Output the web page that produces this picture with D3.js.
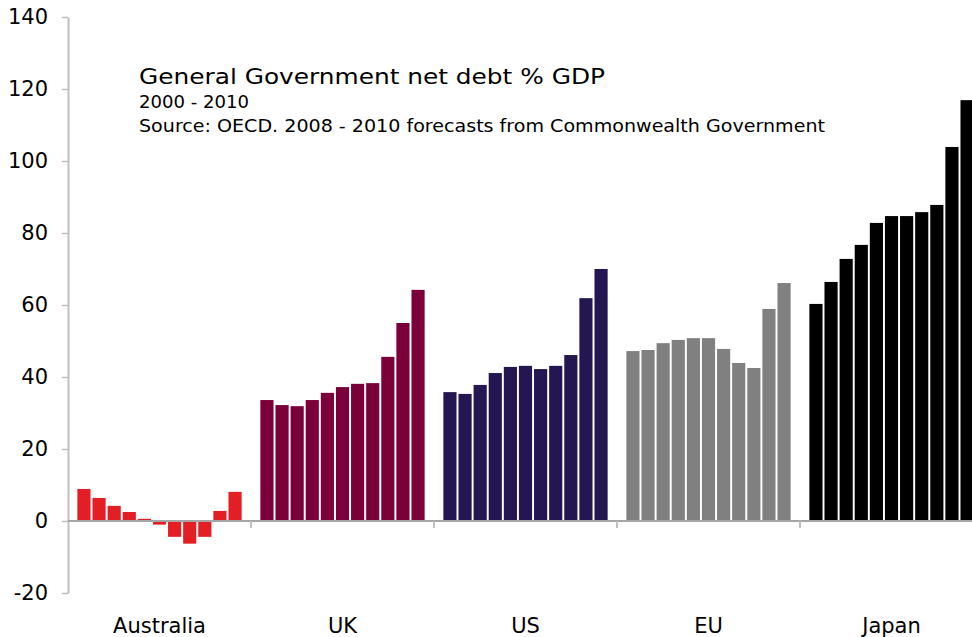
<!DOCTYPE html>
<html>
<head>
<meta charset="utf-8">
<script src="https://cdn.jsdelivr.net/npm/d3@7"></script>
<style>
  body { margin: 0; background: #fff; }
  svg { display: block; font-family: Verdana, "DejaVu Sans", sans-serif; }
</style>
</head>
<body>
<svg id="chart" width="972" height="637"></svg>
<script>
// countries and the years shown for each
var countries = ["Australia", "UK", "US", "EU", "Japan"];
var years = ["2000", "2001", "2002", "2003", "2004", "2005", "2006", "2007", "2008", "2009", "2010"];
var colors = ["#e31e24", "#7b003a", "#231651", "#808080", "#000000"];

// net debt % GDP
var australia = [8.9, 6.4, 4.2, 2.5, 0.6, -1.0, -4.4, -6.3, -4.4, 2.8, 8.1];
var uk        = [33.6, 32.2, 31.9, 33.6, 35.6, 37.2, 38.1, 38.3, 45.6, 55.0, 64.2];
var us        = [35.8, 35.3, 37.8, 41.1, 42.8, 43.1, 42.2, 43.1, 46.1, 61.9, 70.0];
var eu        = [47.2, 47.5, 49.4, 50.3, 50.8, 50.8, 47.8, 43.9, 42.5, 58.9, 66.1];
var japan     = [60.3, 66.4, 72.8, 76.7, 82.8, 84.7, 84.7, 85.8, 87.8, 103.9, 116.9];

var yTicks = [-20, 0, 20, 40, 60, 80, 100, 120, 140];

var series = [australia, uk, us, eu, japan];

var svg = d3.select("#chart");
var plotLeft = 68, plotTop = 17, plotBottom = 593, groupW = 183;

var x = d3.scaleBand()
    .domain(countries)
    .range([plotLeft, plotLeft + groupW * countries.length]);

var xYear = d3.scaleBand()
    .domain(years)
    .range([0, x.bandwidth()])
    .paddingInner(0.13)
    .paddingOuter(0.62);

var y = d3.scaleLinear()
    .domain([-20, 140])
    .range([plotBottom, plotTop]);

// bars
var groups = svg.append("g").selectAll("g")
    .data(countries)
    .join("g")
    .attr("transform", d => "translate(" + x(d) + ",0)");

groups.each(function (c, i) {
    d3.select(this).selectAll("rect")
        .data(series[i])
        .join("rect")
        .attr("x", (v, j) => xYear(years[j]))
        .attr("width", xYear.bandwidth())
        .attr("y", v => y(Math.max(0, v)))
        .attr("height", v => Math.abs(y(v) - y(0)))
        .attr("fill", colors[i]);
});

// y axis (plain hyphen for negatives, like the original)
var yAxis = svg.append("g")
    .attr("transform", "translate(" + plotLeft + ",0)")
    .call(d3.axisLeft(y).tickValues(yTicks).tickFormat(d => String(d))
        .tickSize(6).tickSizeOuter(0).tickPadding(14));
yAxis.select(".domain").attr("stroke", "#bfbfbf").attr("stroke-width", 2);
yAxis.selectAll(".tick line").attr("stroke", "#bfbfbf").attr("stroke-width", 1.5);
yAxis.selectAll(".tick text")
    .attr("font-size", 21)
    .attr("font-family", "Verdana, 'DejaVu Sans', sans-serif")
    .attr("fill", "#000");

// x axis at zero, ticks between countries
var xAxis = svg.append("g")
    .attr("transform", "translate(0," + y(0) + ")");
xAxis.append("line")
    .attr("x1", plotLeft).attr("x2", x.range()[1])
    .attr("stroke", "#a6a6a6").attr("stroke-width", 2);
xAxis.selectAll(".sep")
    .data(countries.slice(1))
    .join("line")
    .attr("class", "sep")
    .attr("x1", d => x(d)).attr("x2", d => x(d))
    .attr("y1", 0).attr("y2", 7)
    .attr("stroke", "#bfbfbf").attr("stroke-width", 2);

svg.append("g").selectAll("text")
    .data(countries)
    .join("text")
    .attr("x", d => x(d) + x.bandwidth() / 2)
    .attr("y", 633)
    .attr("text-anchor", "middle")
    .attr("font-size", 21)
    .text(d => d);

// titles
svg.append("text").attr("x", 139).attr("y", 84).attr("font-size", 22)
    .attr("textLength", 466).attr("lengthAdjust", "spacingAndGlyphs")
    .text("General Government net debt % GDP");
svg.append("text").attr("x", 139).attr("y", 108).attr("font-size", 17)
    .attr("textLength", 110).attr("lengthAdjust", "spacingAndGlyphs")
    .text("2000 - 2010");
svg.append("text").attr("x", 139).attr("y", 132).attr("font-size", 17)
    .attr("textLength", 686).attr("lengthAdjust", "spacingAndGlyphs")
    .text("Source: OECD. 2008 - 2010 forecasts from Commonwealth Government");
</script>
</body>
</html>
